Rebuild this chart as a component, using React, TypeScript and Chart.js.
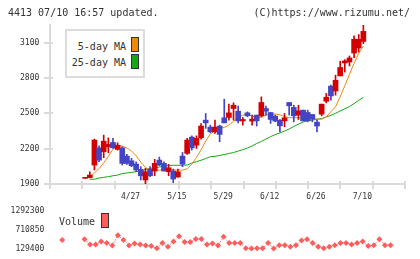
import { useEffect, useRef } from 'react';
import { Chart, registerables } from 'chart.js';

Chart.register(...registerables);

// Trading days shown on the chart
const dates = [
  '4/13', '4/14', '4/15', '4/16', '4/17', '4/20', '4/21', '4/22', '4/23', '4/24',
  '4/27', '4/28', '4/30', '5/1', '5/7', '5/8', '5/11', '5/12', '5/13', '5/14',
  '5/15', '5/18', '5/19', '5/20', '5/21', '5/22', '5/25', '5/26', '5/27', '5/28',
  '5/29', '6/1', '6/2', '6/3', '6/4', '6/5', '6/8', '6/9', '6/10', '6/11',
  '6/12', '6/15', '6/16', '6/17', '6/18', '6/19', '6/22', '6/23', '6/24', '6/25',
  '6/26', '6/29', '6/30', '7/1', '7/2', '7/3', '7/6', '7/7', '7/8', '7/9',
  '7/10',
];

const labeledDates = ['4/27', '5/15', '5/29', '6/12', '6/26', '7/10'];

const opens = [
  1948, 1953, 2061, 2207, 2174, 2216, 2253, 2194, 2207, 2137,
  2097, 2069, 2024, 1934, 2024, 2010, 2103, 2075, 2004, 2010,
  1959, 2137, 2160, 2298, 2230, 2292, 2442, 2383, 2343, 2392,
  2462, 2465, 2541, 2518, 2436, 2504, 2434, 2485, 2479, 2541,
  2507, 2476, 2442, 2436, 2592, 2550, 2485, 2527, 2507, 2490,
  2425, 2493, 2603, 2731, 2690, 2818, 2928, 2936, 3012, 3055,
  3111,
];

const highs = [
  1948, 2004, 2281, 2224, 2315, 2292, 2287, 2250, 2216, 2152,
  2118, 2089, 2047, 2033, 2047, 2109, 2129, 2089, 2067, 2027,
  2027, 2168, 2287, 2309, 2309, 2414, 2499, 2400, 2442, 2400,
  2620, 2578, 2589, 2561, 2465, 2512, 2485, 2485, 2640, 2561,
  2507, 2485, 2448, 2499, 2592, 2569, 2569, 2527, 2527, 2490,
  2442, 2578, 2669, 2739, 2824, 2942, 2956, 2987, 3157, 3170,
  3250,
];

const lows = [
  1948, 1953, 2019, 2089, 2123, 2165, 2202, 2188, 2061, 2067,
  2047, 2004, 1934, 1900, 1962, 1970, 2055, 2010, 1970, 1911,
  1959, 2047, 2152, 2188, 2202, 2281, 2372, 2335, 2330, 2258,
  2419, 2442, 2442, 2419, 2400, 2470, 2400, 2392, 2470, 2485,
  2414, 2428, 2343, 2386, 2485, 2428, 2448, 2436, 2428, 2428,
  2343, 2479, 2589, 2612, 2654, 2818, 2851, 2902, 2973, 3021,
  3092,
];

const closes = [
  1948, 1976, 2273, 2103, 2264, 2236, 2207, 2230, 2075, 2075,
  2055, 2019, 1970, 2004, 1970, 2075, 2061, 2010, 2038, 1942,
  2004, 2069, 2273, 2207, 2287, 2392, 2419, 2343, 2383, 2321,
  2419, 2504, 2569, 2436, 2448, 2479, 2451, 2436, 2592, 2518,
  2448, 2434, 2394, 2462, 2564, 2479, 2521, 2436, 2436, 2451,
  2392, 2578, 2637, 2648, 2781, 2889, 2945, 2970, 3129, 3129,
  3196,
];

const ma5 = [
  null, 1953, 1995, 2030, 2080, 2135, 2195, 2225, 2222, 2205,
  2180, 2140, 2085, 2040, 2020, 2018, 2018, 2020, 2022, 2020,
  2018, 2018, 2030, 2068, 2125, 2190, 2265, 2325, 2352, 2373,
  2380, 2400, 2432, 2465, 2485, 2486, 2480, 2460, 2468, 2485,
  2494, 2494, 2488, 2472, 2463, 2463, 2462, 2460, 2458, 2455,
  2452, 2450, 2470, 2514, 2556, 2640, 2735, 2830, 2925, 3010,
  3072,
];

const ma25 = [
  null, 1940, 1940, 1951, 1957, 1962, 1970, 1976, 1989, 1993,
  1999, 2004, 2010, 2023, 2032, 2038, 2044, 2053, 2057, 2059,
  2059, 2059, 2061, 2078, 2089, 2102, 2116, 2132, 2135, 2142,
  2150, 2159, 2167, 2180, 2191, 2206, 2223, 2244, 2261, 2282,
  2302, 2320, 2333, 2350, 2367, 2388, 2409, 2426, 2437, 2443,
  2449, 2456, 2469, 2483, 2500, 2520, 2538, 2558, 2583, 2611,
  2636,
];

const volumes = [
  null, 393000, null, null, null, 413000, 251000, 251000, 345000, 300000,
  223000, 535000, 393000, 223000, 280000, 251000, 223000, 203000, 135000, 300000,
  186000, 345000, 507000, 328000, 328000, 422000, 422000, 251000, 280000, 223000,
  487000, 300000, 300000, 300000, 138000, 129400, 138000, 138000, 300000, 132000,
  232000, 232000, 186000, 232000, 373000, 413000, 300000, 186000, 135000, 186000,
  232000, 300000, 300000, 251000, 300000, 345000, 203000, 232000, 413000, 232000,
  232000,
];

const priceTicks = [1900, 2200, 2500, 2800, 3100];
const volumeTicks = [129400, 710850, 1292300];

const MONO = '"DejaVu Sans Mono", monospace';
const UP = '#d40000';
const DOWN = '#4444c4';
const MA5_COLOR = '#f0880a';
const MA25_COLOR = '#14a814';
const VOL_COLOR = '#ff5c5c';
const AXIS_COLOR = '#dadada';
const TEXT_COLOR = '#333333';

const X_MIN = -1.2;
const X_MAX = 62.6;

// Short tick marks crossing both axes; the x marks divide the axis evenly.
const axisMarks = {
  id: 'axisMarks',
  beforeDatasetsDraw(chart: any) {
    const { ctx, chartArea: a, scales } = chart;
    ctx.save();
    ctx.strokeStyle = AXIS_COLOR;
    ctx.lineWidth = 2;
    ctx.beginPath();
    for (let k = 0; k <= 11; k++) {
      const x = Math.round(a.left + ((a.right - a.left) * k) / 11);
      ctx.moveTo(x, a.bottom - 3);
      ctx.lineTo(x, a.bottom + 5);
    }
    for (const t of scales.y.ticks) {
      const y = Math.round(scales.y.getPixelForValue(t.value));
      ctx.moveTo(a.left - 6, y);
      ctx.lineTo(a.left + 3, y);
    }
    ctx.stroke();
    ctx.restore();
  },
};

export default function App() {
  const priceRef = useRef<HTMLCanvasElement>(null);
  const volRef = useRef<HTMLCanvasElement>(null);

  useEffect(() => {
    const candleColors = closes.map((c, i) => (c >= opens[i] ? UP : DOWN));
    const tickFont = { family: MONO, size: 8 };

    const price = new Chart(priceRef.current as HTMLCanvasElement, {
      type: 'bar',
      data: {
        datasets: [
          {
            type: 'bar',
            label: 'body',
            data: dates.map((_, i) => ({ x: i, y: [opens[i], closes[i]] })) as any,
            backgroundColor: candleColors,
            barThickness: 5,
            grouped: false,
            minBarLength: 1,
            order: 1,
          } as any,
          {
            type: 'bar',
            label: 'wick',
            data: dates.map((_, i) => ({ x: i, y: [lows[i], highs[i]] })) as any,
            backgroundColor: candleColors,
            barThickness: 1,
            grouped: false,
            minBarLength: 1,
            order: 2,
          } as any,
          {
            type: 'line',
            label: '5-day MA',
            data: ma5.map((v, i) => ({ x: i, y: v })) as any,
            borderColor: MA5_COLOR,
            borderWidth: 1,
            pointRadius: 0,
            spanGaps: false,
            order: 3,
          } as any,
          {
            type: 'line',
            label: '25-day MA',
            data: ma25.map((v, i) => ({ x: i, y: v })) as any,
            borderColor: MA25_COLOR,
            borderWidth: 1,
            pointRadius: 0,
            spanGaps: false,
            order: 4,
          } as any,
        ],
      },
      options: {
        animation: false,
        responsive: false,
        events: [],
        layout: { padding: { top: 25, right: 15, left: 0, bottom: 0 } },
        plugins: { legend: { display: false }, tooltip: { enabled: false } },
        scales: {
          x: {
            type: 'linear',
            min: X_MIN,
            max: X_MAX,
            afterBuildTicks: (s: any) => {
              s.ticks = labeledDates.map((d) => ({ value: dates.indexOf(d) }));
            },
            afterFit: (s: any) => {
              s.height = 21;
            },
            grid: { display: false, drawTicks: false },
            border: { display: true, color: AXIS_COLOR, width: 2 },
            ticks: {
              autoSkip: false,
              maxRotation: 0,
              padding: 8.5,
              labelOffset: -1,
              font: tickFont,
              color: TEXT_COLOR,
              callback: (v: any) => dates[v as number],
            },
          },
          y: {
            type: 'linear',
            min: 1900,
            max: 3250,
            afterBuildTicks: (s: any) => {
              s.ticks = priceTicks.map((v) => ({ value: v }));
            },
            afterFit: (s: any) => {
              s.width = 50;
            },
            grid: { display: false, drawTicks: false },
            border: { display: true, color: AXIS_COLOR, width: 2 },
            ticks: {
              padding: 10.7,
              font: tickFont,
              color: TEXT_COLOR,
              callback: (v: any) => String(v),
            },
          },
        },
      } as any,
      plugins: [axisMarks],
    });

    const volume = new Chart(volRef.current as HTMLCanvasElement, {
      type: 'line',
      data: {
        datasets: [
          {
            label: 'Volume',
            data: volumes.map((v, i) => ({ x: i, y: v })) as any,
            borderColor: VOL_COLOR,
            borderWidth: 1,
            borderDash: [1, 1],
            pointStyle: 'rectRot',
            pointRadius: 3,
            pointBorderWidth: 0,
            pointBackgroundColor: VOL_COLOR,
            spanGaps: false,
            clip: false,
          } as any,
        ],
      },
      options: {
        animation: false,
        responsive: false,
        events: [],
        layout: { padding: { top: 8, right: 15, left: 0, bottom: 10 } },
        plugins: { legend: { display: false }, tooltip: { enabled: false } },
        scales: {
          x: { type: 'linear', min: X_MIN, max: X_MAX, display: false },
          y: {
            type: 'linear',
            min: volumeTicks[0],
            max: volumeTicks[volumeTicks.length - 1],
            afterBuildTicks: (s: any) => {
              s.ticks = volumeTicks.map((v) => ({ value: v }));
            },
            afterFit: (s: any) => {
              s.width = 50;
            },
            grid: { display: false, drawTicks: false },
            border: { display: false },
            ticks: {
              padding: 5.7,
              font: tickFont,
              color: TEXT_COLOR,
              callback: (v: any) => String(v),
            },
          },
        },
      } as any,
    });

    return () => {
      price.destroy();
      volume.destroy();
    };
  }, []);

  const text10 = {
    position: 'absolute' as const,
    fontFamily: MONO,
    fontSize: 10,
    lineHeight: '12px',
    color: TEXT_COLOR,
    whiteSpace: 'pre' as const,
  };

  const swatch = (left: number, top: number, h: number, color: string) => ({
    position: 'absolute' as const,
    left,
    top,
    width: 6,
    height: h - 2,
    background: color,
    border: '1px solid #333',
  });

  return (
    <div
      style={{
        position: 'fixed',
        left: 0,
        top: 0,
        width: 420,
        height: 259,
        background: '#fff',
        overflow: 'hidden',
      }}
    >
      <canvas
        ref={priceRef}
        width={420}
        height={205}
        style={{ position: 'absolute', left: 0, top: 0, width: 420, height: 205 }}
      />
      <canvas
        ref={volRef}
        width={420}
        height={59}
        style={{ position: 'absolute', left: 0, top: 200, width: 420, height: 59 }}
      />
      <div style={{ ...text10, left: 8, top: 7 }}>4413 07/10 16:57 updated.</div>
      <div style={{ ...text10, right: 10, top: 7 }}>(C)https://www.rizumu.net/</div>

      <div
        style={{
          position: 'absolute',
          left: 65,
          top: 29,
          width: 76,
          height: 45,
          border: '2px solid #dcdcdc',
          background: '#fff',
        }}
      />
      <div style={{ ...text10, right: 294, top: 41 }}>5-day MA</div>
      <div style={swatch(131, 37, 15, MA5_COLOR)} />
      <div style={{ ...text10, right: 294, top: 57 }}>25-day MA</div>
      <div style={swatch(131, 54, 15, MA25_COLOR)} />

      <div style={{ ...text10, left: 59, top: 216 }}>Volume</div>
      <div style={swatch(101, 213, 15, VOL_COLOR)} />
    </div>
  );
}
